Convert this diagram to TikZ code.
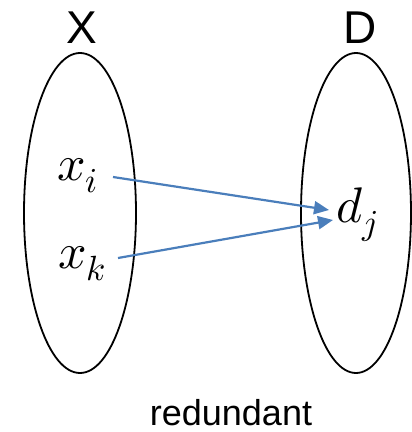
\documentclass[tikz,border=0pt]{standalone}
\usepackage{fontspec}
\usepackage{unicode-math}
\setmathfont{Latin Modern Math}
\setsansfont{Liberation Sans}
\usetikzlibrary{arrows.meta}
\definecolor{arrblue}{HTML}{4A7EBB}
\begin{document}
\begin{tikzpicture}[x=1pt,y=-1pt,
  setlabel/.style={font=\sffamily\fontsize{46}{46}\selectfont,inner sep=0pt},
  elem/.style={font=\fontsize{50}{50}\selectfont,inner sep=0pt,anchor=base west},
  arr/.style={draw=arrblue,line width=2.2pt,-{Triangle[length=15pt,width=13pt]}},
  caption/.style={font=\sffamily\fontsize{36}{36}\selectfont,inner sep=0pt}]
\useasboundingbox (0,0) rectangle (412,432);
\draw[line width=1.8pt] (80,213) ellipse [x radius=56, y radius=160];
\draw[line width=1.8pt] (356,213) ellipse [x radius=55, y radius=160];
\node[setlabel] (X) at (82,28) {X};
\node[setlabel] (D) at (360,28) {D};
\node[elem] (xi) at (57,180) {$x_i$};
\node[elem] (xk) at (58,268) {$x_k$};
\node[elem] (dj) at (336,222) {$d_j$};
\coordinate (s1) at (113,177);
\coordinate (e1) at (329,210);
\coordinate (s2) at (118,258);
\coordinate (e2) at (333,220);
\draw[arr] (s1) -- (e1);
\draw[arr] (s2) -- (e2);
\node[caption] (cap) at (231,413) {redundant};
\end{tikzpicture}
\end{document}
